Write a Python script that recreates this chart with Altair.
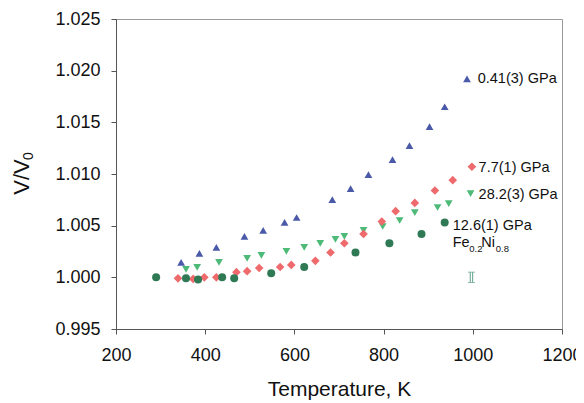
import altair as alt
import pandas as pd

# ---- data ----
blue_T = [346, 387, 425, 488, 530, 578, 605, 685, 726, 766, 820, 858, 903, 937, 987]
blue_V = [1.00145, 1.00232, 1.0029, 1.00396, 1.00454, 1.00531, 1.00579, 1.00753,
          1.00859, 1.00994, 1.01139, 1.01274, 1.01458, 1.01651, 1.01921]

red_T = [339, 373, 398, 425, 470, 494, 521, 568, 593, 647, 681, 712, 755, 796, 827,
         870, 915, 955, 998]
red_V = [0.9999, 0.99985, 1.0000, 1.0000, 1.0005, 1.0006, 1.0009, 1.0010, 1.0012,
         1.0016, 1.0024, 1.0033, 1.0042, 1.0054, 1.0064, 1.0072, 1.0084, 1.0094, 1.0107]

grn_T = [357, 382, 431, 494, 526, 582, 622, 658, 692, 712, 755, 798, 836, 870, 921,
         946, 995]
grn_V = [1.00077, 1.00097, 1.00145, 1.00183, 1.00212, 1.00251, 1.0029, 1.00328,
         1.00367, 1.00396, 1.00454, 1.00492, 1.0055, 1.00627, 1.00676, 1.00714, 1.0081]

cir_T = [290, 357, 384, 438, 465, 548, 622, 737, 813, 885, 937]
cir_V = [1.0000, 0.9999, 0.9998, 1.0000, 0.9999, 1.0004, 1.0010, 1.0024, 1.0033,
         1.0042, 1.0053]

label_text = ["0.41(3) GPa", "7.7(1) GPa", "28.2(3) GPa", "12.6(1) GPa"]
label_T = [1011, 1013, 1013, 955]
label_V = [1.0192, 1.01062, 1.00792, 1.00492]

fe_T = [955]
fe_V = [1.00328]

err_T = [997]
err_lo = [0.9995]
err_hi = [1.0005]

x_ticks = [200, 400, 600, 800, 1000, 1200]
y_ticks = [0.995, 1.000, 1.005, 1.010, 1.015, 1.020, 1.025]

FONT = "Liberation Sans"

xscale = alt.Scale(domain=[200, 1200], nice=False, zero=False)
yscale = alt.Scale(domain=[0.995, 1.025], nice=False, zero=False)
xaxis = alt.Axis(values=x_ticks, format="d", title="Temperature, K", labelFlush=False)
yaxis = alt.Axis(values=y_ticks, format=".3f", title=None, labelFlush=False)


def X(field="T"):
    return alt.X(f"{field}:Q", scale=xscale, axis=xaxis)


def Y(field="V"):
    return alt.Y(f"{field}:Q", scale=yscale, axis=yaxis)


def pts(T, V, shape, color, size):
    df = pd.DataFrame({"T": T, "V": V})
    return alt.Chart(df).mark_point(shape=shape, filled=True, color=color,
                                    size=size, opacity=1).encode(x=X(), y=Y())


blue = pts(blue_T, blue_V, "triangle-up", "#4a5aa8", 60)
red = pts(red_T, red_V, "diamond", "#ee6a6c", 75)
grn = pts(grn_T, grn_V, "triangle-down", "#4dba78", 60)
cir = pts(cir_T, cir_V, "circle", "#2f7a55", 64)

labels_df = pd.DataFrame({"T": label_T, "V": label_V, "text": label_text})
labels = alt.Chart(labels_df).mark_text(
    align="left", baseline="middle", font=FONT, fontSize=14.5, color="#111"
).encode(x=X(), y=Y(), text="text:N")

fe_df = pd.DataFrame({"T": fe_T, "V": fe_V})
fe_main = alt.Chart(fe_df).mark_text(align="left", baseline="middle", font=FONT,
                                     fontSize=14.5, color="#111", text="Fe").encode(x=X(), y=Y())
fe_sub = alt.Chart(fe_df).mark_text(align="left", baseline="middle", font=FONT,
                                    fontSize=9.5, color="#111", text="0.2", dx=16.5, dy=6).encode(x=X(), y=Y())
ni_main = alt.Chart(fe_df).mark_text(align="left", baseline="middle", font=FONT,
                                     fontSize=14.5, color="#111", text="Ni", dx=28.5).encode(x=X(), y=Y())
ni_sub = alt.Chart(fe_df).mark_text(align="left", baseline="middle", font=FONT,
                                    fontSize=9.5, color="#111", text="0.8", dx=43, dy=6).encode(x=X(), y=Y())

err_df = pd.DataFrame({"T": err_T, "lo": err_lo, "hi": err_hi})
err_color = "#5f9f8a"
err_r1 = alt.Chart(err_df).mark_rule(color=err_color, strokeWidth=1, xOffset=-1.2).encode(
    x=X(), y=Y("lo"), y2="hi:Q")
err_r2 = alt.Chart(err_df).mark_rule(color=err_color, strokeWidth=1, xOffset=1.2).encode(
    x=X(), y=Y("lo"), y2="hi:Q")
err_t1 = alt.Chart(err_df).mark_tick(color=err_color, orient="horizontal", size=7,
                                     thickness=1).encode(x=X(), y=Y("lo"))
err_t2 = alt.Chart(err_df).mark_tick(color=err_color, orient="horizontal", size=7,
                                     thickness=1).encode(x=X(), y=Y("hi"))

ytitle_df = pd.DataFrame({"t": ["V/V"]})
ytitle = alt.Chart(ytitle_df).mark_text(
    angle=270, align="center", baseline="alphabetic", font=FONT, fontSize=22, color="#111"
).encode(text="t:N", x=alt.value(-87), y=alt.value(158))
ysub_df = pd.DataFrame({"t": ["0"]})
ysub = alt.Chart(ysub_df).mark_text(
    angle=270, align="center", baseline="alphabetic", font=FONT, fontSize=14, color="#111"
).encode(text="t:N", x=alt.value(-83), y=alt.value(137))

chart = alt.layer(
    blue, grn, red, cir, labels, fe_main, fe_sub, ni_main, ni_sub,
    err_r1, err_r2, err_t1, err_t2, ytitle, ysub
).properties(
    width=446, height=310,
    autosize=alt.AutoSizeParams(type="none"),
    padding={"left": 108, "top": 11, "right": 14, "bottom": 72},
).configure_axis(
    labelFont=FONT, titleFont=FONT, labelFontSize=18, titleFontSize=21,
    labelColor="#111", titleColor="#111", titleFontWeight="normal",
    domainColor="#555", tickColor="#555", tickSize=5, grid=False,
).configure_axisX(labelPadding=12, titlePadding=14, labelOverlap=False
).configure_axisY(labelPadding=11).configure_view(stroke="#9a9a9a")

chart.save("out.html", embed_options={"renderer": "svg", "actions": False})
